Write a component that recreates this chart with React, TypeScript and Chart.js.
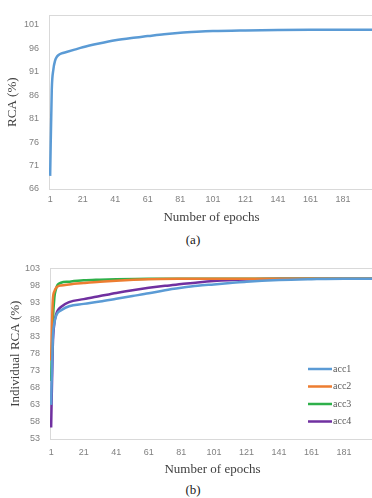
import React, { useEffect, useRef } from "react";
import { Chart, registerables } from "chart.js";
Chart.register(...registerables);

// ---- Data ----
const xTickValues = [1, 21, 41, 61, 81, 101, 121, 141, 161, 181];
const yTicksA = [66, 71, 76, 81, 86, 91, 96, 101];
const yTicksB = [53, 58, 63, 68, 73, 78, 83, 88, 93, 98, 103];

const epochsA = [1, 2, 3, 4, 5, 6, 8, 11, 16, 21, 31, 41, 51, 61, 71, 81, 91, 101, 121, 141, 161, 181, 200];
const rcaA = [68.8, 87.1, 91.5, 93.3, 94.1, 94.5, 94.9, 95.2, 95.7, 96.2, 97.0, 97.7, 98.2, 98.6, 99.0, 99.3, 99.5, 99.65, 99.8, 99.9, 99.95, 99.95, 99.95];

const seriesLabels = ["acc1", "acc2", "acc3", "acc4"];
const seriesColors = ["#5B9BD5", "#ED7D31", "#2EB04A", "#7030A0"];

const epochsAcc1 = [1, 2, 3, 4, 5, 7, 12, 21, 31, 41, 51, 61, 71, 81, 91, 101, 111, 121, 141, 161, 181, 200];
const acc1 = [63, 82, 87, 89, 90, 90.7, 91.9, 92.6, 93.3, 94.1, 94.9, 95.7, 96.6, 97.3, 97.9, 98.3, 98.7, 99.1, 99.6, 99.85, 100, 100];
const epochsAcc2 = [1, 2, 3, 4, 5, 7, 12, 21, 31, 41, 61, 81, 101, 141, 200];
const acc2 = [76, 93.5, 96.3, 97.3, 97.7, 98.0, 98.3, 98.7, 99.1, 99.4, 99.8, 99.95, 100, 100, 100];
const epochsAcc3 = [1, 2, 3, 4, 5, 7, 12, 21, 31, 41, 61, 81, 200];
const acc3 = [70, 87, 94.5, 97, 98.2, 98.8, 99.1, 99.5, 99.7, 99.85, 100, 100, 100];
const epochsAcc4 = [1, 2, 3, 4, 5, 7, 12, 21, 31, 41, 51, 61, 71, 81, 91, 101, 121, 141, 200];
const acc4 = [56.4, 80, 87, 89.4, 90.6, 91.7, 93.1, 94.0, 94.9, 95.8, 96.6, 97.3, 97.9, 98.4, 98.9, 99.3, 99.75, 99.95, 100];

const seriesEpochs = [epochsAcc1, epochsAcc2, epochsAcc3, epochsAcc4];
const seriesValues = [acc1, acc2, acc3, acc4];

const toPoints = (xs: number[], ys: number[]) => xs.map((x, i) => ({ x, y: ys[i] }));

const tickFont = { family: "'Liberation Sans', Arial, sans-serif", size: 9 };
const titleFont = { family: "'Liberation Serif', 'Times New Roman', serif", size: 13 };
const tickColor = "#808080";
const titleColor = "#404040";

const boxPlugin = {
  id: "box",
  beforeDatasetsDraw(chart: any) {
    const { ctx, chartArea: a } = chart;
    ctx.save();
    ctx.strokeStyle = "#d9d9d9";
    ctx.lineWidth = 1;
    ctx.strokeRect(Math.round(a.left) + 0.5, Math.round(a.top) + 0.5, Math.round(a.right - a.left), Math.round(a.bottom - a.top));
    ctx.restore();
  },
};

const legendPlugin = {
  id: "innerLegend",
  afterDraw(chart: any) {
    const { ctx } = chart;
    ctx.save();
    chart.data.datasets.forEach((ds: any, i: number) => {
      const y = 116 + i * 17.5;
      ctx.strokeStyle = ds.borderColor;
      ctx.lineWidth = 2.5;
      ctx.beginPath();
      ctx.moveTo(308, y);
      ctx.lineTo(332, y);
      ctx.stroke();
      ctx.fillStyle = "#595959";
      ctx.font = "10px 'Liberation Serif', 'Times New Roman', serif";
      ctx.textBaseline = "middle";
      ctx.textAlign = "left";
      ctx.fillText(ds.label, 333, y);
    });
    ctx.restore();
  },
};

function makeOptions(cfg: {
  yMin: number; yMax: number; yTicks: number[]; yTitle: string;
  yWidth: number; xHeight: number; xPad: number; yTitlePad: number; padRight: number;
}) {
  return {
    animation: false as const,
    responsive: false,
    maintainAspectRatio: false,
    layout: { padding: { top: 10, right: cfg.padRight, left: 0, bottom: 0 } },
    plugins: { legend: { display: false }, tooltip: { enabled: false } },
    elements: { point: { radius: 0 }, line: { borderWidth: 2.5, cubicInterpolationMode: "monotone" as const } },
    scales: {
      x: {
        type: "linear" as const,
        min: 0.3,
        max: 200,
        grid: { display: false, drawTicks: false },
        border: { display: false },
        afterBuildTicks: (s: any) => { s.ticks = xTickValues.map((v) => ({ value: v })); },
        afterFit: (s: any) => { s.height = cfg.xHeight; },
        ticks: { font: tickFont, color: tickColor, padding: cfg.xPad, maxRotation: 0, autoSkip: false },
        title: { display: true, text: "Number of epochs", font: titleFont, color: titleColor, padding: { top: 0, bottom: 0 } },
      },
      y: {
        type: "linear" as const,
        min: cfg.yMin,
        max: cfg.yMax,
        grid: { display: false, drawTicks: false },
        border: { display: false },
        afterBuildTicks: (s: any) => { s.ticks = cfg.yTicks.map((v) => ({ value: v })); },
        afterFit: (s: any) => { s.width = cfg.yWidth; },
        ticks: { font: tickFont, color: tickColor, padding: 10 },
        title: { display: true, text: cfg.yTitle, font: titleFont, color: titleColor, padding: { top: cfg.yTitlePad, bottom: 0 } },
      },
    },
  };
}

export default function App() {
  const refA = useRef<HTMLCanvasElement>(null);
  const refB = useRef<HTMLCanvasElement>(null);

  useEffect(() => {
    const chartA = new Chart(refA.current!, {
      type: "line",
      data: {
        datasets: [
          { label: "RCA", data: toPoints(epochsA, rcaA), borderColor: "#5B9BD5", backgroundColor: "#5B9BD5", fill: false },
        ],
      },
      options: makeOptions({ yMin: 66, yMax: 103, yTicks: yTicksA, yTitle: "RCA (%)", yWidth: 49, xHeight: 36, xPad: 5, yTitlePad: 5, padRight: 6 }) as any,
      plugins: [boxPlugin],
    });
    const chartB = new Chart(refB.current!, {
      type: "line",
      data: {
        datasets: seriesLabels.map((label, i) => ({
          label,
          data: toPoints(seriesEpochs[i], seriesValues[i]),
          borderColor: seriesColors[i],
          backgroundColor: seriesColors[i],
          fill: false,
        })),
      },
      options: makeOptions({ yMin: 53, yMax: 103, yTicks: yTicksB, yTitle: "Individual RCA (%)", yWidth: 50, xHeight: 38, xPad: 8, yTitlePad: 8, padRight: 5 }) as any,
      plugins: [boxPlugin, legendPlugin],
    });
    return () => {
      chartA.destroy();
      chartB.destroy();
    };
  }, []);

  const caption: React.CSSProperties = {
    position: "absolute",
    left: 0,
    width: 386,
    textAlign: "center",
    font: "13px 'Liberation Serif', 'Times New Roman', serif",
    lineHeight: "16px",
    color: "#1a1a1a",
  };

  return (
    <div style={{ position: "absolute", left: 0, top: 0, width: 372, height: 498, overflow: "hidden", background: "#fff" }}>
      <canvas ref={refA} width={380} height={225} style={{ position: "absolute", left: 0, top: 0, width: 380, height: 225 }} />
      <div style={{ ...caption, top: 232 }}>(a)</div>
      <canvas ref={refB} width={380} height={224} style={{ position: "absolute", left: 0, top: 253, width: 380, height: 224 }} />
      <div style={{ ...caption, top: 482 }}>(b)</div>
    </div>
  );
}
